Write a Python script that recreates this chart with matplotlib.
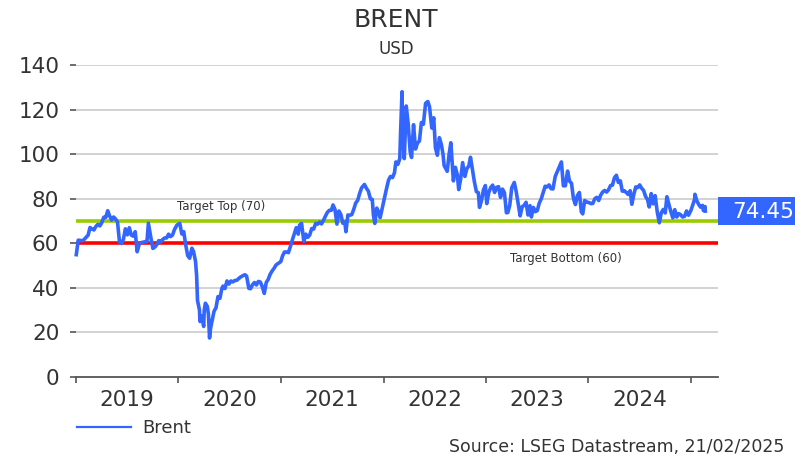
import matplotlib
matplotlib.use("Agg")
import matplotlib.pyplot as plt
import matplotlib.transforms as mtransforms
from matplotlib.patches import Rectangle
from datetime import datetime
import pandas as pd

plt.rcParams['font.family'] = ['DejaVu Sans']

# Brent, USD (roughly weekly)
dates = [
    "2019-01-02", "2019-01-09", "2019-01-16", "2019-01-23", "2019-01-30", "2019-02-06", "2019-02-13",
    "2019-02-20", "2019-02-27", "2019-03-06", "2019-03-13", "2019-03-20", "2019-03-27", "2019-04-03",
    "2019-04-10", "2019-04-17", "2019-04-24", "2019-05-01", "2019-05-08", "2019-05-15", "2019-05-22",
    "2019-05-29", "2019-06-05", "2019-06-12", "2019-06-19", "2019-06-26", "2019-07-03", "2019-07-10",
    "2019-07-17", "2019-07-24", "2019-07-31", "2019-08-07", "2019-08-14", "2019-08-21", "2019-08-28",
    "2019-09-04", "2019-09-11", "2019-09-16", "2019-09-25", "2019-10-02", "2019-10-09", "2019-10-16",
    "2019-10-23", "2019-10-30", "2019-11-06", "2019-11-13", "2019-11-20", "2019-11-27", "2019-12-04",
    "2019-12-11", "2019-12-18", "2019-12-27",
    "2020-01-06", "2020-01-13", "2020-01-20", "2020-01-27", "2020-02-03", "2020-02-10", "2020-02-18",
    "2020-02-24", "2020-03-02", "2020-03-06", "2020-03-09", "2020-03-16", "2020-03-18", "2020-03-25",
    "2020-03-31", "2020-04-02", "2020-04-06", "2020-04-13", "2020-04-17", "2020-04-21", "2020-04-24",
    "2020-04-30", "2020-05-07", "2020-05-14", "2020-05-21", "2020-05-28", "2020-06-04", "2020-06-08",
    "2020-06-15", "2020-06-22", "2020-06-29", "2020-07-06", "2020-07-13", "2020-07-20", "2020-07-27",
    "2020-08-03", "2020-08-10", "2020-08-17", "2020-08-25", "2020-08-31", "2020-09-08", "2020-09-14",
    "2020-09-21", "2020-09-28", "2020-10-05", "2020-10-12", "2020-10-19", "2020-10-26", "2020-11-02",
    "2020-11-09", "2020-11-16", "2020-11-23", "2020-11-30", "2020-12-07", "2020-12-14", "2020-12-21",
    "2020-12-31",
    "2021-01-06", "2021-01-13", "2021-01-20", "2021-01-27", "2021-02-03", "2021-02-10", "2021-02-17",
    "2021-02-24", "2021-03-03", "2021-03-08", "2021-03-15", "2021-03-23", "2021-03-30", "2021-04-06",
    "2021-04-13", "2021-04-20", "2021-04-27", "2021-05-04", "2021-05-11", "2021-05-18", "2021-05-25",
    "2021-06-01", "2021-06-08", "2021-06-15", "2021-06-22", "2021-06-29", "2021-07-05", "2021-07-12",
    "2021-07-19", "2021-07-26", "2021-08-02", "2021-08-09", "2021-08-16", "2021-08-20", "2021-08-27",
    "2021-09-03", "2021-09-10", "2021-09-17", "2021-09-24", "2021-10-01", "2021-10-08", "2021-10-15",
    "2021-10-25", "2021-11-01", "2021-11-08", "2021-11-15", "2021-11-22", "2021-11-26", "2021-12-01",
    "2021-12-08", "2021-12-15", "2021-12-20", "2021-12-31",
    "2022-01-05", "2022-01-12", "2022-01-19", "2022-01-26", "2022-02-02", "2022-02-09", "2022-02-14",
    "2022-02-21", "2022-02-28", "2022-03-03", "2022-03-08", "2022-03-10", "2022-03-16", "2022-03-23",
    "2022-03-30", "2022-04-06", "2022-04-11", "2022-04-18", "2022-04-25", "2022-05-02", "2022-05-09",
    "2022-05-16", "2022-05-23", "2022-05-31", "2022-06-08", "2022-06-14", "2022-06-22", "2022-06-29",
    "2022-07-05", "2022-07-12", "2022-07-19", "2022-07-26", "2022-08-01", "2022-08-05", "2022-08-16",
    "2022-08-23", "2022-08-29", "2022-09-07", "2022-09-14", "2022-09-21", "2022-09-26", "2022-10-03",
    "2022-10-10", "2022-10-18", "2022-10-25", "2022-11-01", "2022-11-07", "2022-11-14", "2022-11-21",
    "2022-11-28", "2022-12-05", "2022-12-09", "2022-12-16", "2022-12-23", "2022-12-30",
    "2023-01-04", "2023-01-11", "2023-01-18", "2023-01-25", "2023-02-01", "2023-02-08", "2023-02-15",
    "2023-02-22", "2023-03-01", "2023-03-08", "2023-03-15", "2023-03-20", "2023-03-27", "2023-04-03",
    "2023-04-12", "2023-04-19", "2023-04-26", "2023-05-03", "2023-05-10", "2023-05-17", "2023-05-24",
    "2023-05-31", "2023-06-07", "2023-06-12", "2023-06-19", "2023-06-26", "2023-07-03", "2023-07-10",
    "2023-07-17", "2023-07-24", "2023-07-31", "2023-08-07", "2023-08-14", "2023-08-21", "2023-08-28",
    "2023-09-05", "2023-09-12", "2023-09-19", "2023-09-27", "2023-10-04", "2023-10-11", "2023-10-19",
    "2023-10-26", "2023-11-02", "2023-11-09", "2023-11-16", "2023-11-23", "2023-11-30", "2023-12-07",
    "2023-12-12", "2023-12-19", "2023-12-28",
    "2024-01-03", "2024-01-10", "2024-01-17", "2024-01-24", "2024-01-31", "2024-02-07", "2024-02-14",
    "2024-02-21", "2024-02-28", "2024-03-06", "2024-03-13", "2024-03-20", "2024-03-27", "2024-04-03",
    "2024-04-10", "2024-04-17", "2024-04-24", "2024-05-01", "2024-05-08", "2024-05-15", "2024-05-22",
    "2024-05-29", "2024-06-04", "2024-06-11", "2024-06-18", "2024-06-25", "2024-07-02", "2024-07-09",
    "2024-07-16", "2024-07-23", "2024-07-30", "2024-08-05", "2024-08-12", "2024-08-19", "2024-08-26",
    "2024-09-03", "2024-09-10", "2024-09-17", "2024-09-24", "2024-10-01", "2024-10-07", "2024-10-14",
    "2024-10-21", "2024-10-28", "2024-11-04", "2024-11-11", "2024-11-18", "2024-11-25", "2024-12-02",
    "2024-12-09", "2024-12-16", "2024-12-23", "2024-12-31",
    "2025-01-07", "2025-01-14", "2025-01-15", "2025-01-21", "2025-01-28", "2025-02-04", "2025-02-11",
    "2025-02-14", "2025-02-18", "2025-02-20", "2025-02-21",
]
brent = [
    54.9, 61.4, 61.3, 61.1, 61.7, 62.7, 63.6,
    67.1, 66.4, 66.0, 67.6, 68.5, 67.8, 69.3,
    71.7, 71.6, 74.6, 72.2, 70.4, 71.8, 70.9,
    69.5, 60.6, 59.9, 61.8, 66.5, 63.8, 67.0,
    63.7, 63.2, 65.2, 56.2, 59.5, 60.3, 60.5,
    60.7, 60.8, 69.0, 62.4, 57.7, 58.3, 59.4,
    61.2, 60.6, 61.7, 62.4, 62.4, 64.1, 63.0,
    63.7, 66.2, 68.2,
    68.9, 64.2, 65.2, 59.3, 54.5, 53.3, 57.8,
    56.3, 51.9, 45.3, 34.4, 30.1, 24.9, 27.4,
    22.7, 29.9, 33.1, 31.7, 28.1, 17.5, 21.4,
    25.3, 29.5, 31.1, 36.1, 35.3, 39.8, 40.8,
    39.7, 43.1, 41.7, 43.1, 42.7, 43.3, 43.4,
    44.2, 44.9, 45.4, 45.9, 45.3, 39.8, 39.6,
    41.4, 42.4, 41.3, 42.9, 42.6, 40.5, 37.5,
    42.4, 43.8, 46.1, 47.6, 48.8, 50.3, 50.9,
    51.8,
    54.3, 56.1, 56.1, 55.8, 58.5, 61.5, 64.3,
    67.0, 64.1, 68.2, 68.9, 60.8, 64.1, 62.7,
    63.7, 66.6, 66.4, 68.9, 68.6, 69.5, 68.7,
    70.3, 72.2, 73.9, 74.8, 74.8, 77.2, 75.2,
    68.6, 74.5, 72.9, 69.0, 69.5, 65.2, 72.7,
    72.6, 72.9, 75.3, 78.1, 79.3, 82.4, 84.9,
    86.4, 84.7, 83.4, 80.0, 79.7, 72.7, 68.9,
    75.8, 73.9, 71.5, 77.8,
    80.8, 84.7, 88.4, 90.0, 89.5, 91.6, 96.5,
    95.4, 98.0, 110.5, 128.0, 109.3, 98.0, 121.6,
    113.5, 101.1, 98.5, 113.2, 102.3, 105.0, 105.9,
    114.2, 113.4, 122.8, 123.6, 121.2, 111.7, 116.3,
    102.8, 99.5, 107.4, 104.4, 100.0, 94.9, 92.3,
    100.2, 105.1, 88.0, 94.1, 90.8, 84.1, 88.9,
    96.2, 90.0, 93.5, 94.7, 98.6, 93.1, 87.5,
    83.2, 82.7, 76.1, 79.0, 83.9, 85.9,
    77.8, 82.7, 85.0, 86.1, 82.8, 85.1, 85.4,
    80.6, 84.3, 82.7, 73.7, 73.8, 77.1, 84.9,
    87.3, 83.1, 77.7, 72.3, 76.4, 77.0, 78.4,
    72.7, 76.9, 71.8, 76.1, 74.2, 74.7, 78.0,
    79.9, 82.7, 85.6, 85.3, 86.2, 84.5, 84.4,
    90.0, 92.1, 94.3, 96.5, 85.8, 85.8, 92.4,
    87.9, 86.9, 80.0, 77.4, 81.4, 82.8, 74.1,
    73.2, 79.2, 78.4,
    78.3, 77.8, 77.9, 80.0, 80.6, 79.2, 81.6,
    83.0, 83.7, 83.0, 84.0, 85.9, 86.1, 89.4,
    90.5, 87.3, 88.0, 83.4, 83.6, 82.8, 81.9,
    83.6, 77.5, 81.9, 85.3, 85.0, 86.2, 84.7,
    83.7, 81.0, 79.6, 76.3, 82.3, 77.7, 81.4,
    73.8, 69.2, 73.7, 75.2, 73.6, 80.9, 77.5,
    74.3, 71.4, 75.1, 71.8, 73.3, 72.8, 71.8,
    72.1, 74.5, 72.6, 74.6,
    77.1, 79.9, 82.0, 79.3, 77.5, 76.2, 77.0,
    74.7, 75.8, 76.5, 74.45,
]
years = [2019, 2020, 2021, 2022, 2023, 2024]
yticks = [0, 20, 40, 60, 80, 100, 120, 140]
target_top = 70
target_bottom = 60
last_value = 74.45

x = pd.to_datetime(dates)

fig = plt.figure(figsize=(7.95, 4.59), dpi=100)
ax = fig.add_axes([0.0956, 0.1786, 0.8075, 0.6798])

for yv in yticks[1:]:
    ax.axhline(yv, color='#cfcfcf', lw=1.3, zorder=1)

ax.axhline(target_top, color='#99cc00', lw=2.6, zorder=2)
ax.axhline(target_bottom, color='#ff0000', lw=2.6, zorder=2)

ax.plot(x, brent, color='#3366ff', lw=2.6, zorder=3, label='Brent', clip_on=False)

ax.set_xlim(datetime(2019, 1, 1), datetime(2025, 4, 7))
ax.set_ylim(0, 140)

# year boundaries as ticks, year labels centred in between
ax.set_xticks([datetime(y, 1, 1) for y in years + [2025]])
ax.set_xticklabels([])
ax.set_xticks([datetime(y, 7, 2) for y in years], minor=True)
ax.set_xticklabels([str(y) for y in years], minor=True)
ax.tick_params(axis='x', which='major', length=4, width=1.2, color='#555555', direction='out')
ax.tick_params(axis='x', which='minor', length=0, pad=9, labelsize=15.5, labelcolor='#333333')

ax.set_yticks(yticks)
ax.tick_params(axis='y', length=4, width=1.2, color='#555555', pad=8, labelsize=15.5, labelcolor='#333333')

for s in ['top', 'right', 'left']:
    ax.spines[s].set_visible(False)
ax.spines['bottom'].set_color('#555555')
ax.spines['bottom'].set_linewidth(1.3)

trans = mtransforms.blended_transform_factory(ax.transAxes, ax.transData)
ax.text(0.226, 76.3, 'Target Top (70)', transform=trans, ha='center', va='center',
        fontsize=8.5, color='#333333')
ax.text(0.763, 53.4, 'Target Bottom (60)', transform=trans, ha='center', va='center',
        fontsize=8.5, color='#333333')

# last value tag
ax.add_patch(Rectangle((1.0, last_value - 6.3), 0.13, 12.6, transform=trans,
                       facecolor='#3366ff', edgecolor='none', clip_on=False, zorder=4))
ax.text(1.023, last_value - 0.5, f'{last_value:.2f}', transform=trans, ha='left', va='center',
        fontsize=15.5, color='white', zorder=5, clip_on=False)

fig.text(0.498, 0.956, 'BRENT', ha='center', va='center', fontsize=18, color='#333333')
fig.text(0.498, 0.893, 'USD', ha='center', va='center', fontsize=12, color='#333333')

leg = fig.legend(loc='center left', bbox_to_anchor=(0.097, 0.0675), frameon=False,
                 fontsize=13, handlelength=3.0, handletextpad=0.6, borderpad=0, borderaxespad=0)
for h in leg.get_lines():
    h.set_linewidth(1.6)
for t in leg.get_texts():
    t.set_color('#333333')

fig.text(0.987, 0.026, 'Source: LSEG Datastream, 21/02/2025', ha='right', va='center',
         fontsize=12.5, color='#333333')

fig.savefig('out.png', dpi=100)
